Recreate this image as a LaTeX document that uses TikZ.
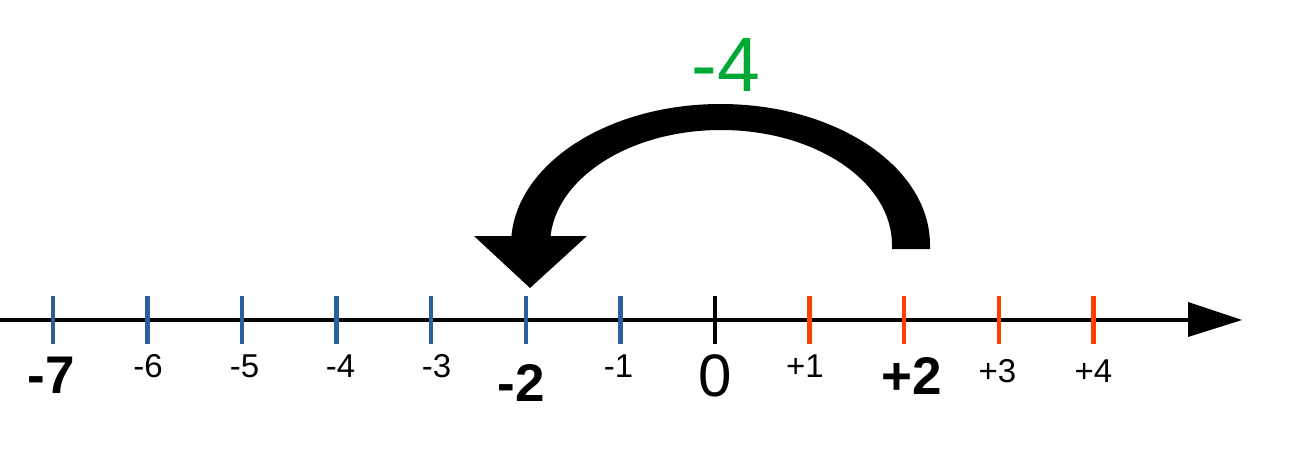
\documentclass[tikz,border=0pt]{standalone}
\usepackage{fontspec}
\setmainfont{Liberation Sans}
\definecolor{tickblue}{HTML}{2A6099}
\definecolor{tickorange}{HTML}{FF4000}
\definecolor{jumpgreen}{HTML}{00A933}
\tikzset{
  tickmark/.style={line width=4.5pt},
  numlabel/.style={anchor=base,inner sep=0pt,font=\fontsize{33}{33}\selectfont},
  onelabel/.style={anchor=base,inner sep=0pt,font=\fontsize{33}{33}\selectfont},
  boldlabel/.style={anchor=base,inner sep=0pt,font=\fontsize{53}{53}\selectfont\bfseries},
}
\begin{document}
\begin{tikzpicture}[x=1pt,y=1pt]
\useasboundingbox (0,0) rectangle (1303,459);
% axis
\coordinate (axL) at (0,139);
\coordinate (axR) at (1190,139);
\draw[line width=4.5pt] (axL) -- (axR);
\fill (1188,157) -- (1242,139) -- (1188,122) -- cycle;
% ticks
\foreach \i/\c in {-7/tickblue,-6/tickblue,-5/tickblue,-4/tickblue,-3/tickblue,-2/tickblue,-1/tickblue,0/black,1/tickorange,2/tickorange,3/tickorange,4/tickorange}{
  \draw[tickmark,draw=\c] ({715+94.6*\i},115) -- ({715+94.6*\i},163);
}
% labels
\node[boldlabel] (lm7) at (51.5,66) {-7};
\node[numlabel] (lm6) at (148,82) {-6};
\node[numlabel] (lm5) at (244.5,82) {-5};
\node[numlabel] (lm4) at (340.5,82) {-4};
\node[numlabel] (lm3) at (436.5,82) {-3};
\node[boldlabel] (lm2) at (521.5,58) {-2};
\node[onelabel] (lm1) at (618.5,82) {-1};
\node[anchor=base,inner sep=0pt,font=\fontsize{60}{60}\selectfont] (l0) at (715,63) {0};
\node[onelabel] (lp1) at (805,82) {+1};
\node[boldlabel] (lp2) at (912,65) {+2};
\node[numlabel] (lp3) at (997.5,77) {+3};
\node[numlabel] (lp4) at (1093.5,77) {+4};
% curved jump arrow
\fill (930,210) -- (930,214) arc[start angle=0,end angle=180,x radius=209.5pt,y radius=141pt]
  -- (550,214) arc[start angle=180,end angle=0,x radius=171pt,y radius=115pt]
  -- (892,210) -- cycle;
\fill (474,223) -- (587,223) -- (530,171) -- cycle;
\node[anchor=base,inner sep=0pt,text=jumpgreen,font=\fontsize{77}{77}\selectfont] (jump) at (726,367) {-4};
\end{tikzpicture}
\end{document}
